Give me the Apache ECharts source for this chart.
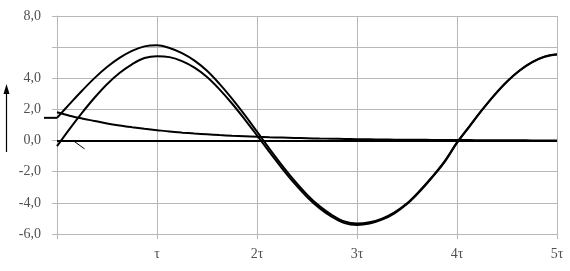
<!DOCTYPE html>
<html>
<head>
<meta charset="utf-8">
<script src="https://cdn.jsdelivr.net/npm/echarts@6/dist/echarts.min.js"></script>
<style>
  html, body { margin: 0; padding: 0; background: #fff; }
  #chart { width: 570px; height: 271px; }
</style>
</head>
<body>
<div id="chart"></div>
<script>
// time in units of tau
const tValues = [0,0.125,0.25,0.375,0.5,0.625,0.75,0.875,1,1.125,1.25,1.375,1.5,1.625,1.75,1.875,2,2.125,2.25,2.375,2.5,2.625,2.75,2.875,3,3.125,3.25,3.375,3.5,3.625,3.75,3.875,4,4.125,4.25,4.375,4.5,4.625,4.75,4.875,5];
// steady-state sinusoid (lower curve)
const sineValues = [-0.36,0.74,1.78,2.75,3.62,4.34,4.90,5.30,5.42,5.36,5.10,4.68,4.08,3.29,2.38,1.38,0.33,-0.74,-1.78,-2.75,-3.62,-4.34,-4.90,-5.30,-5.42,-5.33,-5.08,-4.67,-4.08,-3.29,-2.38,-1.38,-0.15,0.90,1.95,2.92,3.78,4.48,5.02,5.38,5.53];
// decaying exponential (free component)
const expValues = [1.82,1.60,1.42,1.26,1.10,0.97,0.86,0.76,0.67,0.58,0.51,0.45,0.40,0.35,0.31,0.28,0.24,0.21,0.19,0.17,0.15,0.13,0.12,0.10,0.09,0.08,0.07,0.06,0.05,0.05,0.04,0.04,0.03,0.03,0.02,0.02,0.02,0.02,0.01,0.01,0.01];
// total response (upper curve)
const totalValues = [1.46,2.34,3.20,4.01,4.72,5.31,5.76,6.05,6.12,5.94,5.61,5.13,4.48,3.64,2.69,1.66,0.57,-0.53,-1.59,-2.58,-3.47,-4.21,-4.78,-5.20,-5.33,-5.25,-5.01,-4.61,-4.03,-3.24,-2.34,-1.34,-0.12,0.93,1.97,2.94,3.80,4.50,5.03,5.39,5.54];
// initial value before t = 0
const preT = [-0.13, 0];
const preValues = [1.46, 1.46];
// small pointer stroke near the zero line
const pointerT = [0.16, 0.275];
const pointerValues = [0, -0.53];
const zeroLevel = 0;

const xTickValues = [0,1,2,3,4,5];
const xTickLabels = ['', 'τ', '2τ', '3τ', '4τ', '5τ'];
const yTickValues = [-6,-4,-2,0,2,4,6,8];
const yTickLabels = ['-6,0','-4,0','-2,0','0,0','2,0','4,0','','8,0'];

const pair = (xs, ys) => xs.map((x, i) => [x, ys[i]]);
const lineStyle = { color: '#000', width: 2 };
const gridColor = '#b8b8b8';
const font = { fontFamily: 'Liberation Serif', fontSize: 14, color: '#505050' };
const SMOOTH = 0.35;

const chart = echarts.init(document.getElementById('chart'), null, { renderer: 'canvas' });
chart.setOption({
  animation: false,
  backgroundColor: '#fff',
  grid: { left: 57, right: 13, top: 16, bottom: 37, containLabel: false },
  xAxis: {
    type: 'value', min: 0, max: 5, interval: 1,
    axisLine: { show: true, onZero: false, lineStyle: { color: gridColor, width: 1 } },
    axisTick: { show: true, length: 5, lineStyle: { color: gridColor } },
    splitLine: { show: true, lineStyle: { color: gridColor, width: 1 } },
    axisLabel: Object.assign({ margin: 13, formatter: v => xTickLabels[xTickValues.indexOf(v)] ?? '' }, font)
  },
  yAxis: {
    type: 'value', min: -6, max: 8, interval: 2,
    axisLine: { show: true, lineStyle: { color: gridColor, width: 1 } },
    axisTick: { show: true, length: 5, lineStyle: { color: gridColor } },
    splitLine: { show: true, lineStyle: { color: gridColor, width: 1 } },
    axisLabel: Object.assign({ margin: 16, formatter: v => yTickLabels[yTickValues.indexOf(v)] ?? '' }, font)
  },
  series: [
    {
      type: 'line', data: pair(tValues, expValues), smooth: SMOOTH, symbol: 'none', lineStyle,
      markLine: { silent: true, symbol: 'none', label: { show: false },
        lineStyle: { color: '#000', width: 2, type: 'solid' }, data: [{ yAxis: zeroLevel }] }
    },
    { type: 'line', data: pair(tValues, sineValues), smooth: SMOOTH, symbol: 'none', lineStyle },
    { type: 'line', data: pair(tValues, totalValues), smooth: SMOOTH, symbol: 'none', lineStyle },
    { type: 'line', data: pair(pointerT, pointerValues), symbol: 'none', lineStyle: { color: '#000', width: 1 } }
  ]
});

// initial-value stub left of the plot area, placed through the chart's own scales
const p0 = chart.convertToPixel({ gridIndex: 0 }, [preT[0], preValues[0]]);
const p1 = chart.convertToPixel({ gridIndex: 0 }, [preT[1], preValues[1]]);
chart.setOption({
  graphic: [
    { type: 'line', shape: { x1: p0[0], y1: p0[1], x2: p1[0], y2: p1[1] }, style: { stroke: '#000', lineWidth: 2 } },
    { type: 'line', shape: { x1: 6.5, y1: 152, x2: 6.5, y2: 90 }, style: { stroke: '#000', lineWidth: 1.2 } },
    { type: 'polygon', shape: { points: [[6.5, 84], [3.5, 94], [9.5, 94]] }, style: { fill: '#000' } }
  ]
});
</script>
</body>
</html>
